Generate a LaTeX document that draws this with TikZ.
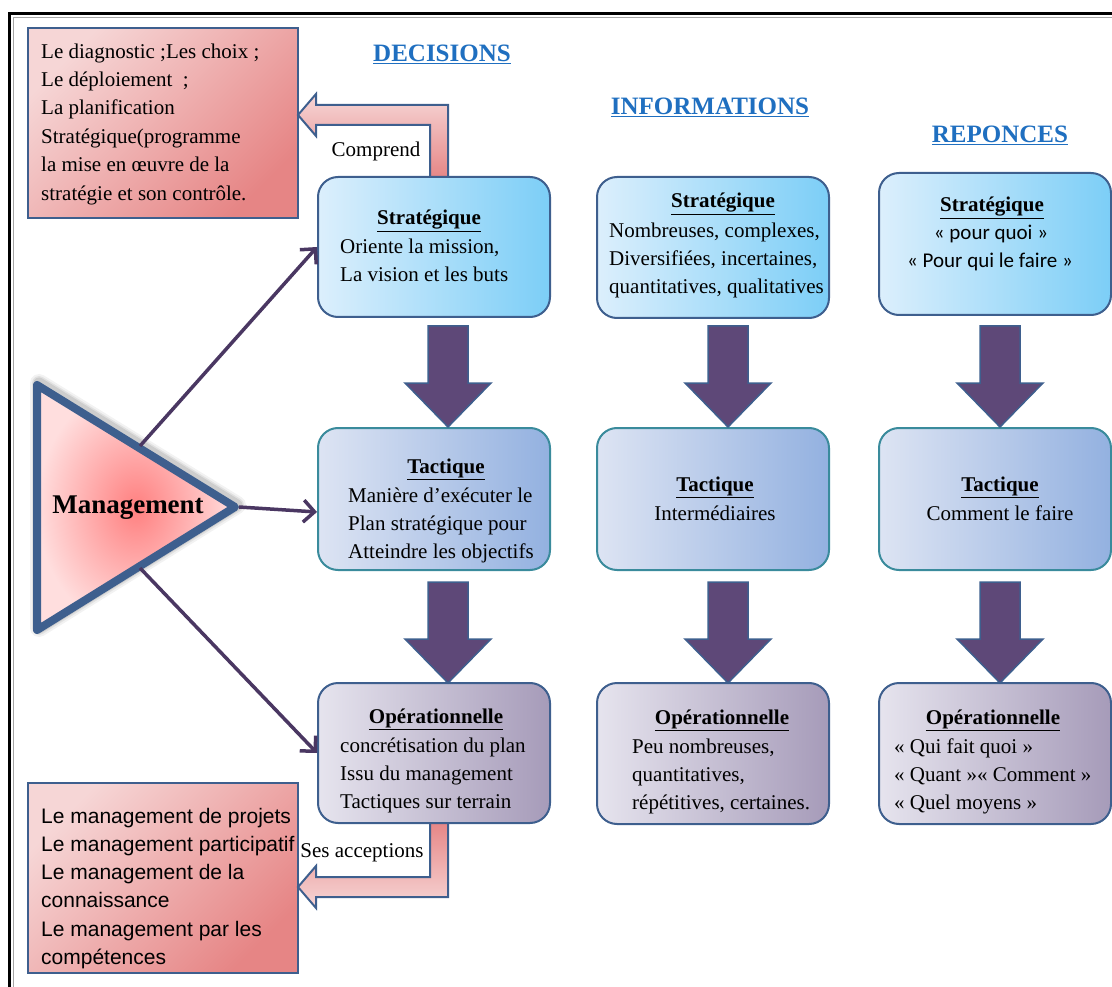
\documentclass[tikz,border=0pt]{standalone}
\usepackage{fontspec}
\setmainfont{Liberation Serif}
\setsansfont{Liberation Sans}
\newfontfamily\calib{Carlito}
\usetikzlibrary{arrows.meta,calc}
\definecolor{bblue}{HTML}{3E5F8E}
\definecolor{teal1}{HTML}{3A8B9C}
\definecolor{apurple}{HTML}{5E4878}
\definecolor{cpurple}{HTML}{4A3762}
\definecolor{hblue}{HTML}{1F6FC0}
\definecolor{sL}{HTML}{DCEFFC}
\definecolor{sR}{HTML}{7CCEF7}
\definecolor{tL}{HTML}{DDE4F3}
\definecolor{tR}{HTML}{93B1E0}
\definecolor{oL}{HTML}{E6E4EE}
\definecolor{oR}{HTML}{A69BB9}
\definecolor{rL}{HTML}{F6D6D6}
\definecolor{rD}{HTML}{E68585}
\definecolor{mgC}{HTML}{FF8080}
\definecolor{mgO}{HTML}{FFDEDE}
\tikzset{
 box/.style={rounded corners=20pt, line width=2pt, minimum width=232pt, inner sep=0pt},
 sbox/.style={box, draw=bblue, left color=sL, right color=sR},
 tbox/.style={box, draw=teal1, left color=tL, right color=tR},
 obox/.style={box, draw=bblue, left color=oL, right color=oR},
 rbox/.style={draw=bblue, line width=2pt, top color=rL, bottom color=rD, shading angle=45, minimum width=270pt, minimum height=190pt, inner sep=0pt},
 txt/.style={font=\fontsize{21}{28.4}\selectfont, inner sep=0pt, anchor=north west, align=left},
 stxt/.style={font=\sffamily\fontsize{21}{28.2}\selectfont, inner sep=0pt, anchor=north west, align=left},
 line/.style={font=\fontsize{21}{28.4}\selectfont, inner sep=0pt, anchor=base},
 ttl/.style={font=\fontsize{21}{25}\selectfont\bfseries, inner sep=0pt, anchor=base},
 hdr/.style={font=\fontsize{25}{30}\selectfont\bfseries, text=hblue, inner sep=0pt, anchor=base},
 conn/.style={draw=cpurple, line width=3.5pt, -{Straight Barb[length=11pt,width=22pt]}},
 larrow/.style={draw=bblue, line width=2pt, line join=miter},
 bigarrow/.style={fill=apurple, draw=bblue, line width=1.5pt, line join=miter},
 shadowline/.style={black, line join=round},
 pics/downarr/.style={code={\path[bigarrow] (-20,0) -- (20,0) -- (20,57) -- (43,57) -- (0,101) -- (-43,57) -- (-20,57) -- cycle;}}
}
\begin{document}
\begin{tikzpicture}[x=1pt,y=-1pt]
\useasboundingbox (0,0) rectangle (1112,987);
% frame
\draw[line width=3pt] (9.5,987) -- (9.5,13.5) -- (1112,13.5);
\draw[gray!70, line width=1.2pt] (13.5,987) -- (13.5,17.5) -- (1112,17.5);

% headers
\node[hdr] (hd1) at (442,62) {\underline{DECISIONS}};
\node[hdr] (hd2) at (710,115) {\underline{INFORMATIONS}};
\node[hdr] (hd3) at (1000,143) {\underline{REPONCES}};

% red boxes
\node[rbox] (r1) at (163,123) {};
\node[rbox] (r2) at (163,878) {};
\node[txt] (r1t) at (41,38.1) {\strut Le diagnostic ;Les choix ;\\Le déploiement\ \ ;\\La planification\\Stratégique(programme\\la mise en œuvre de la\\stratégie et son contrôle.};
\node[stxt] (r2t) at (41,803.3) {\strut Le management de projets\\Le management participatif\\Le management de la\\connaissance\\Le management par les\\compétences};

% L-shaped arrows
\path[larrow, top color=rL, bottom color=rD] (430,179) -- (430,125) -- (316,125) -- (316,136) -- (298,115) -- (316,94) -- (316,105) -- (448,105) -- (448,179) -- cycle;
\path[larrow, top color=rD, bottom color=rL] (430,821) -- (430,877) -- (316,877) -- (316,866) -- (298,887) -- (316,908) -- (316,897) -- (448,897) -- (448,821) -- cycle;
\node[line] (cp) at (376,157) {Comprend};
\node[line] (sa) at (362,857) {Ses acceptions};

% boxes
\node[sbox, minimum height=140pt] (s1) at (434,247) {};
\node[tbox, minimum height=142pt] (t1) at (434,499) {};
\node[obox, minimum height=140pt] (o1) at (434,753) {};
\node[sbox, minimum height=141pt] (s2) at (713,247.5) {};
\node[tbox, minimum height=142pt] (t2) at (713,499) {};
\node[obox, minimum height=141pt] (o2) at (713,753.5) {};
\node[sbox, minimum height=142pt] (s3) at (995,244) {};
\node[tbox, minimum height=142pt] (t3) at (995,499) {};
\node[obox, minimum height=141pt] (o3) at (995,753.5) {};

% big arrows
\pic (a1) at (448,326) {downarr};
\pic (a2) at (448,582) {downarr};
\pic (a3) at (728,326) {downarr};
\pic (a4) at (728,582) {downarr};
\pic (a5) at (1000,326) {downarr};
\pic (a6) at (1000,582) {downarr};

% texts column 1
\node[ttl] (s1h) at (429,225) {\underline{Stratégique}};
\node[txt] (s1t) at (340,233.1) {\strut Oriente la mission,\\La vision et les buts};
\node[ttl] (t1h) at (446,473) {\underline{Tactique}};
\node[txt] (t1t) at (348,482.1) {\strut Manière d’exécuter le\\Plan stratégique pour\\Atteindre les objectifs};
\node[ttl] (o1h) at (436,723) {\underline{Opérationnelle}};
\node[txt] (o1t) at (340,732.1) {\strut concrétisation du plan\\Issu du management\\Tactiques sur terrain};

% texts column 2
\node[ttl] (s2h) at (723,208) {\underline{Stratégique}};
\node[txt] (s2t) at (609,217.1) {\strut Nombreuses, complexes,\\Diversifiées, incertaines,\\quantitatives, qualitatives};
\node[ttl] (t2h) at (715,491) {\underline{Tactique}};
\node[line] (t2t) at (715,520) {Intermédiaires};
\node[ttl] (o2h) at (722,724) {\underline{Opérationnelle}};
\node[txt] (o2t) at (632,733.1) {\strut Peu nombreuses,\\quantitatives,\\répétitives, certaines.};

% texts column 3
\node[ttl] (s3h) at (992,212) {\underline{Stratégique}};
\node[line, font=\calib\fontsize{21}{28}\selectfont] (s3a) at (991,240) {« pour quoi »};
\node[line, font=\calib\fontsize{21}{28}\selectfont] (s3b) at (990,268) {« Pour qui le faire »};
\node[ttl] (t3h) at (1000,491) {\underline{Tactique}};
\node[line] (t3t) at (1000,520) {Comment le faire};
\node[ttl] (o3h) at (993,724) {\underline{Opérationnelle}};
\node[txt] (o3t) at (894,733.1) {\strut « Qui fait quoi »\\« Quant »« Comment »\\« Quel moyens »};

% management triangle with soft shadow
\begin{scope}[shift={(2,-2)}]
\draw[shadowline, opacity=.05, line width=18pt] (37,385) -- (235,507) -- (37,630) -- cycle;
\draw[shadowline, opacity=.07, line width=14pt] (37,385) -- (235,507) -- (37,630) -- cycle;
\draw[shadowline, opacity=.09, line width=11pt] (37,385) -- (235,507) -- (37,630) -- cycle;
\end{scope}
\path[draw=bblue, line width=8pt, line join=round, shading=radial, inner color=mgC, outer color=mgO] (37,385) -- (235,507) -- (37,630) -- cycle;
\node[font=\fontsize{27}{30}\selectfont\bfseries, inner sep=0pt, anchor=base] (mg) at (128,513) {Management};

\coordinate (mA) at (140,446);
\coordinate (mB) at (239,507);
\coordinate (mC) at (140,568);
\draw[conn] (mA) -- (s1.west);
\draw[conn] (mB) -- ($(t1.west)+(0,13)$);
\draw[conn] (mC) -- (o1.west);
\end{tikzpicture}
\end{document}
